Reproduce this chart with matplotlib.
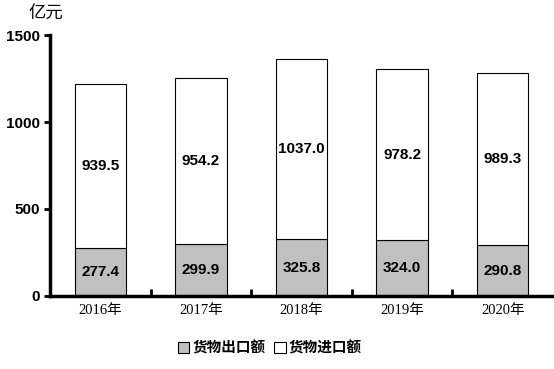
import numpy as np
import matplotlib.pyplot as plt
from matplotlib.patches import Patch

years = ['2016年', '2017年', '2018年', '2019年', '2020年']
exports = [277.4, 299.9, 325.8, 324.0, 290.8]
imports = [939.5, 954.2, 1037.0, 978.2, 989.3]

plt.rcParams['font.family'] = ['Liberation Sans', 'Noto Sans CJK SC']

fig = plt.figure(figsize=(5.54, 3.69), dpi=100)
ax = fig.add_axes([0.0903, 0.198, 0.908, 0.707])

x = np.arange(len(years))
ax.bar(x, exports, width=0.51, color='#c0c0c0', edgecolor='black', linewidth=0.8)
ax.bar(x, imports, width=0.51, bottom=exports, color='white', edgecolor='black', linewidth=0.8)

for i in range(len(years)):
    ax.text(x[i], exports[i] / 2, f'{exports[i]:.1f}', ha='center', va='center',
            fontsize=11, fontweight='bold')
    ax.text(x[i], exports[i] + imports[i] / 2, f'{imports[i]:.1f}', ha='center', va='center',
            fontsize=11, fontweight='bold')

ax.set_xlim(-0.5, 4.5)
ax.set_ylim(0, 1500)
ax.set_yticks([0, 500, 1000, 1500])
ax.set_yticklabels(['0', '500', '1000', '1500'], fontsize=11, fontweight='bold')
ax.set_xticks(x)
ax.set_xticklabels(years, fontsize=10.5, family=['Liberation Serif', 'Noto Sans CJK SC'])
ax.tick_params(axis='x', length=0, pad=6)
ax.tick_params(axis='y', length=4, width=2, direction='out', pad=3)
ax.set_xticks(np.arange(0.5, 4.5, 1), minor=True)
ax.tick_params(axis='x', which='minor', length=5, width=2, direction='in')

ax.spines['top'].set_visible(False)
ax.spines['right'].set_visible(False)
ax.spines['left'].set_linewidth(2.5)
ax.spines['bottom'].set_linewidth(2.5)

fig.text(0.083, 0.962, '亿元', fontsize=12.5, family=['Noto Sans CJK SC'], ha='center', va='center')

handles = [Patch(facecolor='#c0c0c0', edgecolor='black', linewidth=0.8, label='货物出口额'),
           Patch(facecolor='white', edgecolor='black', linewidth=0.8, label='货物进口额')]
fig.legend(handles=handles, loc='center', bbox_to_anchor=(0.487, 0.057), ncol=2, frameon=False,
           handlelength=0.8, handleheight=0.8, handletextpad=0.2, columnspacing=0.6,
           prop={'family': ['Noto Sans CJK SC'], 'size': 10.5, 'weight': 'bold'})

fig.savefig('out.png', dpi=100)
